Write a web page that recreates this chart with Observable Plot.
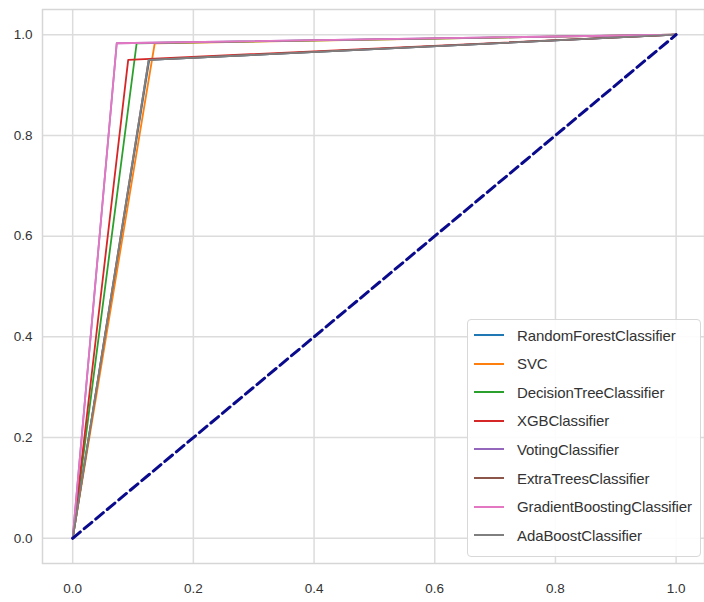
<!DOCTYPE html>
<html>
<head>
<meta charset="utf-8">
<script src="https://cdn.jsdelivr.net/npm/d3@7"></script>
<script src="https://cdn.jsdelivr.net/npm/@observablehq/plot@0.6"></script>
<style>
  html, body { margin: 0; padding: 0; background: #fff; }
  #wrap { position: relative; width: 704px; height: 602px; font-family: "Liberation Sans", Arial, sans-serif; }
  #legend { position: absolute; left: 467px; top: 319px; width: 234px; height: 238px; box-sizing: border-box;
            border: 1px solid #d8d8d8; border-radius: 4px; background: rgba(255,255,255,0.9); }
  .row { position: absolute; left: 0; height: 20px; display: flex; align-items: center; }
  .sw { width: 30px; height: 0; border-top: 2px solid; margin-left: 6px; margin-right: 13px; }
  .lab { font-size: 15px; color: #333; letter-spacing: -0.1px; }
</style>
</head>
<body>
<div id="wrap"></div>
<script>
const models = ["RandomForestClassifier", "SVC", "DecisionTreeClassifier", "XGBClassifier",
                "VotingClassifier", "ExtraTreesClassifier", "GradientBoostingClassifier", "AdaBoostClassifier"];
const colors = ["#1f77b4", "#ff7f0e", "#2ca02c", "#d62728", "#9467bd", "#8c564b", "#e377c2", "#7f7f7f"];
const fprMid = [0.127, 0.136, 0.106, 0.092, 0.073, 0.126, 0.073, 0.126];
const tprMid = [0.950, 0.983, 0.983, 0.950, 0.983, 0.950, 0.983, 0.950];
const xTicks = [0, 0.2, 0.4, 0.6, 0.8, 1.0];
const yTicks = [0, 0.2, 0.4, 0.6, 0.8, 1.0];
const diagonal = [[0, 0], [1, 1]];

const rows = [];
models.forEach((m, i) => {
  rows.push({model: m, fpr: 0, tpr: 0});
  rows.push({model: m, fpr: fprMid[i], tpr: tprMid[i]});
  rows.push({model: m, fpr: 1, tpr: 1});
});

const chart = Plot.plot({
  width: 704,
  height: 602,
  marginLeft: 42,
  marginRight: 0,
  marginTop: 9,
  marginBottom: 39,
  style: {fontFamily: "'Liberation Sans', Arial, sans-serif", fontSize: "13.5px", color: "#333", background: "#fff"},
  x: {domain: [-0.05, 1.047]},
  y: {domain: [-0.05, 1.05]},
  color: {domain: models, range: colors},
  marks: [
    Plot.gridX(xTicks, {stroke: "#dcdcdc", strokeOpacity: 1, strokeWidth: 1.5}),
    Plot.gridY(yTicks, {stroke: "#dcdcdc", strokeOpacity: 1, strokeWidth: 1.5}),
    Plot.frame({stroke: "#d6d6d6", strokeWidth: 1.5}),
    Plot.axisX(xTicks, {tickSize: 0, tickPadding: 20, tickFormat: d3.format(".1f"), label: null, fill: "#333", fontSize: 13.5}),
    Plot.axisY(yTicks, {tickSize: 0, tickPadding: 10, tickFormat: d3.format(".1f"), label: null, fill: "#333", fontSize: 13.5}),
    Plot.line(rows, {x: "fpr", y: "tpr", z: "model", stroke: "model", strokeWidth: 1.8}),
    Plot.line(diagonal, {x: d => d[0], y: d => d[1], stroke: "#0a0a8c", strokeWidth: 3, strokeDasharray: "10,5"})
  ]
});
const wrap = document.getElementById("wrap");
wrap.appendChild(chart);

const legend = document.createElement("div");
legend.id = "legend";
models.forEach((m, i) => {
  const row = document.createElement("div");
  row.className = "row";
  row.style.top = (5 + i * 28.6) + "px";
  const sw = document.createElement("div");
  sw.className = "sw";
  sw.style.borderTopColor = colors[i];
  const lab = document.createElement("span");
  lab.className = "lab";
  lab.textContent = m;
  row.appendChild(sw); row.appendChild(lab);
  legend.appendChild(row);
});
wrap.appendChild(legend);
</script>
</body>
</html>
